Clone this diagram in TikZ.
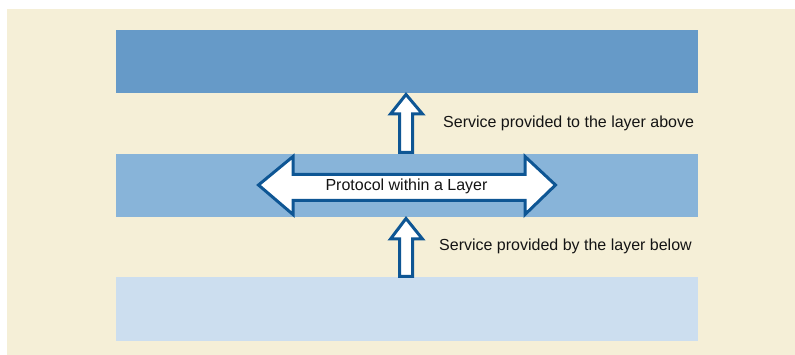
\documentclass[tikz,border=0pt]{standalone}
\usepackage{fontspec}
\setmainfont{Liberation Sans}
\definecolor{cream}{RGB}{245,239,215}
\definecolor{layerA}{RGB}{102,154,200}
\definecolor{layerB}{RGB}{136,180,217}
\definecolor{layerC}{RGB}{204,222,239}
\definecolor{arrowblue}{RGB}{14,86,148}
\definecolor{txt}{RGB}{20,20,20}
\begin{document}
\begin{tikzpicture}[x=1pt,y=-1pt,
  layer/.style={inner sep=0pt,outer sep=0pt,draw=none},
  blockarrow/.style={draw=arrowblue,fill=white,line width=3pt,line join=miter},
  lbl/.style={inner sep=0pt,text=txt,font=\fontsize{16}{19}\selectfont}]
\useasboundingbox (0,0) rectangle (795,355);
\fill[white] (0,0) rectangle (795,355);
\fill[cream] (7,9) rectangle (795,355);
\node[layer,fill=layerA,minimum width=582pt,minimum height=63pt,anchor=north west] (top) at (116,30) {};
\node[layer,fill=layerB,minimum width=582pt,minimum height=63pt,anchor=north west] (mid) at (116,154) {};
\node[layer,fill=layerC,minimum width=582pt,minimum height=64pt,anchor=north west] (bot) at (116,277) {};
% upper service arrow
\draw[blockarrow] (406,94.5) -- (422.5,114) -- (412.5,114) -- (412.5,152.5) -- (399.5,152.5) -- (399.5,114) -- (390.5,114) -- cycle;
% lower service arrow
\draw[blockarrow] (406,218.5) -- (422.5,239) -- (412.5,239) -- (412.5,276.5) -- (399.5,276.5) -- (399.5,239) -- (390.5,239) -- cycle;
% protocol double arrow
\draw[blockarrow] (258.5,185) -- (293,156.5) -- (293,174.5) -- (525,174.5) -- (525,156.5) -- (555.5,185) -- (525,214.5) -- (525,200.5) -- (293,200.5) -- (293,214.5) -- cycle;
\node[lbl] (proto) at (406.5,186) {Protocol within a Layer};
\node[lbl,anchor=west] (above) at (443,123) {Service provided to the layer above};
\node[lbl,anchor=west] (below) at (439,246) {Service provided by the layer below};
\end{tikzpicture}
\end{document}
